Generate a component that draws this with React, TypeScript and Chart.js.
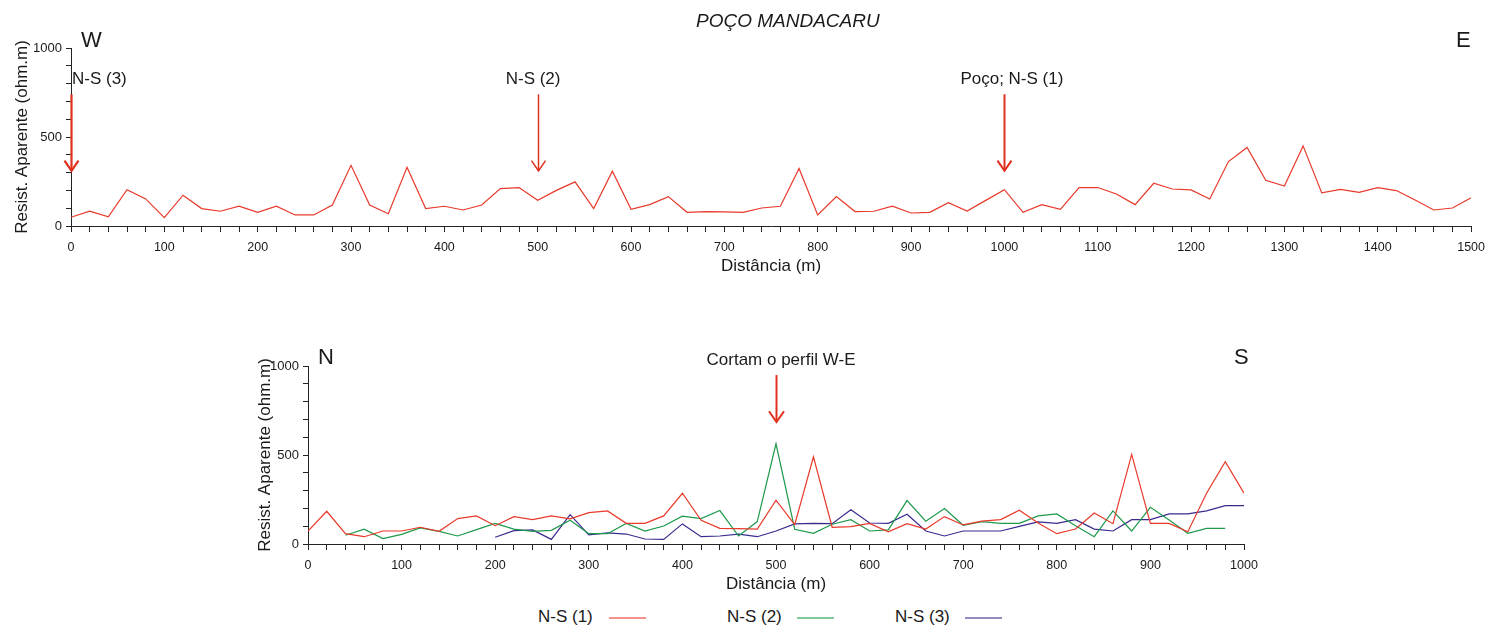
import React, { useEffect, useRef } from 'react';
import { Chart, registerables } from 'chart.js';

Chart.register(...registerables);

const FONT = "'Liberation Sans', Arial, Helvetica, sans-serif";
const TEXT = '#1a1a1a';
const AXIS = '#222222';
const RED = '#e8392a';
const GREEN = '#1e9a4c';
const PURPLE = '#3a2a8e';
const ARROW = '#e0301e';

// ---------- W-E profile (Poço Mandacaru) ----------
const WE_DISTANCE = [
  0, 20, 40, 60, 80, 100, 120, 140, 160, 180, 200, 220, 240, 260, 280, 300, 320, 340, 360, 380,
  400, 420, 440, 460, 480, 500, 520, 540, 560, 580, 600, 620, 640, 660, 680, 700, 720, 740, 760, 780,
  800, 820, 840, 860, 880, 900, 920, 940, 960, 980, 1000, 1020, 1040, 1060, 1080, 1100, 1120, 1140, 1160, 1180,
  1200, 1220, 1240, 1260, 1280, 1300, 1320, 1340, 1360, 1380, 1400, 1420, 1440, 1460, 1480, 1500,
];
const WE_RESIST = [
  49, 83, 51, 204, 152, 47, 173, 98, 83, 111, 77, 111, 62, 62, 118, 341, 118, 69, 330, 98,
  111, 90, 118, 210, 216, 144, 200, 248, 98, 308, 94, 120, 165, 77, 81, 79, 77, 101, 111, 323,
  62, 165, 81, 83, 111, 73, 77, 131, 84, 144, 204, 77, 120, 94, 216, 216, 180, 120, 240, 208,
  203, 152, 362, 441, 257, 225, 450, 186, 206, 189, 216, 199, 146, 90, 101, 158,
];
const WE_X_LABELED = [0, 100, 200, 300, 400, 500, 600, 700, 800, 900, 1000, 1100, 1200, 1300, 1400, 1500];
const WE_MARKER_AT = [0, 500, 1000];
const WE_MARKER_LABELS = ['N-S (3)', 'N-S (2)', 'Poço; N-S (1)'];

// ---------- N-S profiles ----------
const NS_DISTANCE = [
  0, 20, 40, 60, 80, 100, 120, 140, 160, 180, 200, 220, 240, 260, 280, 300, 320, 340, 360, 380,
  400, 420, 440, 460, 480, 500, 520, 540, 560, 580, 600, 620, 640, 660, 680, 700, 720, 740, 760, 780,
  800, 820, 840, 860, 880, 900, 920, 940, 960, 980, 1000,
];
const NS1 = [
  73, 184, 58, 41, 73, 73, 94, 71, 143, 158, 103, 154, 137, 158, 141, 176, 186, 116, 116, 158,
  285, 133, 88, 86, 84, 246, 109, 490, 94, 98, 116, 68, 114, 84, 154, 107, 128, 137, 190, 118,
  58, 84, 174, 114, 503, 116, 116, 69, 285, 462, 285,
];
const NS2 = [
  null, null, 49, 83, 30, 54, 90, 71, 45, 81, 116, 84, 71, 77, 133, 58, 58, 116, 73, 101,
  156, 143, 188, 45, 126, 563, 83, 60, 111, 137, 73, 79, 244, 128, 199, 105, 126, 116, 116, 158,
  169, 103, 41, 186, 73, 206, 135, 60, 88, 88, null,
];
const NS3 = [
  null, null, null, null, null, null, null, null, null, null, 38, 75, 79, 26, 165, 51, 62, 56, 28, 26,
  113, 41, 45, 56, 41, 73, 113, 116, 114, 193, 118, 116, 167, 73, 45, 73, 73, 73, 99, 124,
  116, 137, 84, 73, 137, 137, 169, 169, 186, 216, 216,
];
const NS_X_LABELED = [0, 100, 200, 300, 400, 500, 600, 700, 800, 900, 1000];
const NS_LABELS = ['N-S (1)', 'N-S (2)', 'N-S (3)'];
const NS_MARKER_AT = [500];

const Y_TICKS = [0, 100, 200, 300, 400, 500, 600, 700, 800, 900, 1000];
const Y_LABELED = [0, 500, 1000];

// ---------- annotation plugin ----------
const annotationPlugin = {
  id: 'profileAnnotations',
  afterDatasetsDraw(chart: any, _args: any, opts: any) {
    const { ctx } = chart;
    const xs = chart.scales.x;
    const ys = chart.scales.y;
    ctx.save();
    (opts.arrows || []).forEach((a: any) => {
      const px = Math.round(xs.getPixelForValue(a.at)) + 0.5;
      const y1 = ys.getPixelForValue(a.from);
      const y2 = ys.getPixelForValue(a.to);
      ctx.strokeStyle = ARROW;
      ctx.lineWidth = a.width;
      ctx.beginPath();
      ctx.moveTo(px, y1);
      ctx.lineTo(px, y2);
      ctx.stroke();
      ctx.beginPath();
      ctx.moveTo(px - a.head, y2 - a.head * 1.45);
      ctx.lineTo(px, y2);
      ctx.lineTo(px + a.head, y2 - a.head * 1.45);
      ctx.stroke();
    });
    (opts.texts || []).forEach((t: any) => {
      ctx.font = `${t.style || 'normal'} ${t.size}px ${FONT}`;
      ctx.fillStyle = TEXT;
      ctx.textAlign = t.align || 'left';
      ctx.textBaseline = 'alphabetic';
      ctx.fillText(t.text, xs.getPixelForValue(t.at) + (t.dx || 0), t.y);
    });
    ctx.restore();
  },
};

function axisOptions(
  xTicks: number[],
  xLabeled: number[],
  xMax: number,
  yAxisWidth: number,
  xAxisHeight: number,
  yTitlePad: number,
  xTitlePad: number,
) {
  const tickFont = { size: 12.5, family: FONT };
  const titleFont = { size: 17, family: FONT };
  return {
    x: {
      type: 'linear',
      min: 0,
      max: xMax,
      afterBuildTicks: (s: any) => {
        s.ticks = xTicks.map((v) => ({ value: v }));
      },
      afterFit: (s: any) => {
        s.height = xAxisHeight;
      },
      ticks: {
        autoSkip: false,
        maxRotation: 0,
        padding: 8,
        color: TEXT,
        font: tickFont,
        callback: (v: any) => (xLabeled.includes(Number(v)) ? String(v) : ''),
      },
      grid: { drawOnChartArea: false, drawTicks: true, tickLength: 6, tickColor: AXIS, tickWidth: 1 },
      border: { display: true, color: AXIS, width: 1 },
      title: {
        display: true,
        text: 'Distância (m)',
        color: TEXT,
        font: titleFont,
        padding: { top: 0, bottom: xTitlePad },
      },
    },
    y: {
      type: 'linear',
      min: 0,
      max: 1000,
      afterBuildTicks: (s: any) => {
        s.ticks = Y_TICKS.map((v) => ({ value: v }));
      },
      afterFit: (s: any) => {
        s.width = yAxisWidth;
      },
      ticks: {
        autoSkip: false,
        padding: 4,
        color: TEXT,
        font: { size: 13, family: FONT },
        callback: (v: any) => (Y_LABELED.includes(Number(v)) ? String(v) : ''),
      },
      grid: { drawOnChartArea: false, drawTicks: true, tickLength: 5, tickColor: AXIS, tickWidth: 1 },
      border: { display: true, color: AXIS, width: 1 },
      title: {
        display: true,
        text: 'Resist. Aparente (ohm.m)',
        color: TEXT,
        font: titleFont,
        padding: { top: yTitlePad, bottom: 0 },
      },
    },
  };
}

function toPoints(xs: number[], ys: (number | null)[]) {
  return xs.map((x, i) => ({ x, y: ys[i] }));
}

function TopChart() {
  const ref = useRef<HTMLCanvasElement>(null);
  useEffect(() => {
    const markerOffsets = [1, -32, -44];
    const markerWidths = [2.2, 1.5, 2];
    const chart = new Chart(ref.current as HTMLCanvasElement, {
      type: 'line',
      data: {
        datasets: [
          {
            label: 'W-E',
            data: toPoints(WE_DISTANCE, WE_RESIST),
            borderColor: RED,
            borderWidth: 1.2,
            pointRadius: 0,
            tension: 0,
            fill: false,
          },
        ],
      },
      options: {
        responsive: false,
        animation: false,
        devicePixelRatio: 1,
        layout: { padding: { left: 0, right: 14, top: 48, bottom: 0 } },
        plugins: {
          legend: { display: false },
          tooltip: { enabled: false },
          profileAnnotations: {
            arrows: WE_MARKER_AT.map((at, i) => ({ at, from: 740, to: 310, width: markerWidths[i], head: 7 })),
            texts: [
              ...WE_MARKER_AT.map((at, i) => ({ text: WE_MARKER_LABELS[i], at, dx: markerOffsets[i], y: 84, size: 17 })),
              { text: 'W', at: 0, dx: 10, y: 47, size: 22 },
              { text: 'E', at: 1500, dx: -15, y: 47, size: 22 },
              { text: 'POÇO MANDACARU', at: 768, dx: 0, y: 27, size: 19, style: 'italic', align: 'center' },
            ],
          },
        } as any,
        scales: axisOptions(WE_DISTANCE, WE_X_LABELED, 1500, 71, 64, 11.8, 13.8) as any,
      },
      plugins: [annotationPlugin],
    });
    return () => chart.destroy();
  }, []);
  return (
    <canvas
      ref={ref}
      width={1493}
      height={290}
      style={{ position: 'absolute', left: 0, top: 0, width: 1493, height: 290 }}
    />
  );
}

function BottomChart() {
  const ref = useRef<HTMLCanvasElement>(null);
  useEffect(() => {
    const colors = [RED, GREEN, PURPLE];
    const series = [NS1, NS2, NS3];
    const chart = new Chart(ref.current as HTMLCanvasElement, {
      type: 'line',
      data: {
        datasets: series.map((s, i) => ({
          label: NS_LABELS[i],
          data: toPoints(NS_DISTANCE, s),
          borderColor: colors[i],
          borderWidth: 1.2,
          pointRadius: 0,
          tension: 0,
          fill: false,
          spanGaps: false,
        })),
      },
      options: {
        responsive: false,
        animation: false,
        devicePixelRatio: 1,
        layout: { padding: { left: 250, right: 249, top: 66, bottom: 0 } },
        plugins: {
          legend: { display: false },
          tooltip: { enabled: false },
          profileAnnotations: {
            arrows: NS_MARKER_AT.map((at) => ({ at, from: 949, to: 685, width: 2, head: 7.5 })),
            texts: [
              { text: 'N', at: 0, dx: 10, y: 64, size: 22 },
              { text: 'S', at: 1000, dx: -10, y: 64, size: 22 },
              { text: 'Cortam o perfil W-E', at: 500, dx: 5, y: 65, size: 17, align: 'center' },
            ],
          },
        } as any,
        scales: axisOptions(NS_DISTANCE, NS_X_LABELED, 1000, 58, 56, 4.8, 5.8) as any,
      },
      plugins: [annotationPlugin],
    });
    return () => chart.destroy();
  }, []);
  return (
    <canvas
      ref={ref}
      width={1493}
      height={300}
      style={{ position: 'absolute', left: 0, top: 300, width: 1493, height: 300 }}
    />
  );
}

function Legend() {
  const colors = [RED, GREEN, PURPLE];
  const textLeft = [538, 727, 895];
  const lineLeft = [609, 797, 965];
  return (
    <div style={{ position: 'absolute', left: 0, top: 607, width: 1493, height: 25 }}>
      {NS_LABELS.map((label, i) => (
        <React.Fragment key={label}>
          <span
            style={{
              position: 'absolute',
              left: textLeft[i],
              top: 0,
              font: `17px ${FONT}`,
              lineHeight: '20px',
              color: TEXT,
              whiteSpace: 'nowrap',
            }}
          >
            {label}
          </span>
          <span
            style={{
              position: 'absolute',
              left: lineLeft[i],
              top: 10,
              width: 37,
              height: 2,
              background: colors[i],
              opacity: 0.55,
            }}
          />
        </React.Fragment>
      ))}
    </div>
  );
}

export default function App() {
  return (
    <div style={{ position: 'absolute', left: 0, top: 0, width: 1493, height: 632, background: '#fff' }}>
      <TopChart />
      <BottomChart />
      <Legend />
    </div>
  );
}
